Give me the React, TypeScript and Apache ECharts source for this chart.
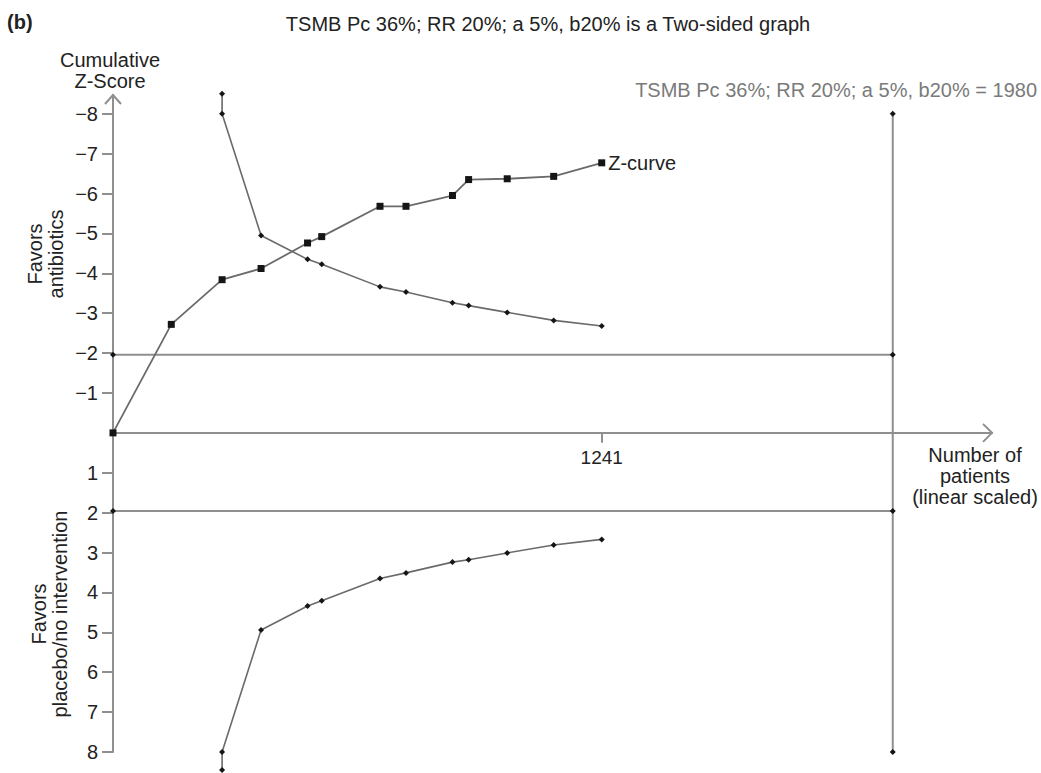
import React, { useEffect, useRef } from 'react';
import * as echarts from 'echarts';

// Cumulative Z-curve (number of patients, cumulative Z-score)
const zPatients = [0, 148, 277, 376, 494, 530, 678, 744, 862, 903, 1001, 1119, 1241];
const zScores = [0, -2.72, -3.84, -4.12, -4.76, -4.92, -5.68, -5.68, -5.95, -6.35, -6.37, -6.43, -6.77];

// Trial sequential monitoring boundaries
const boundaryPatients = [277, 277, 376, 494, 530, 678, 744, 862, 903, 1001, 1119, 1241];
const upperBoundary = [-8.5, -8, -4.95, -4.35, -4.23, -3.66, -3.53, -3.26, -3.19, -3.02, -2.82, -2.68];
const lowerBoundary = [8.45, 8, 4.94, 4.34, 4.21, 3.65, 3.51, 3.24, 3.18, 3.01, 2.81, 2.67];

// Conventional boundaries and required information size
const zCritical = [-1.96, 1.96];
const requiredSize = 1980;
const requiredSizeSpan = [-8, 8];

// Axis ticks
const yTickValues = [-8, -7, -6, -5, -4, -3, -2, -1, 1, 2, 3, 4, 5, 6, 7, 8];
const xTickValues = [1241];
const yAxisTop = -8.47;
const yAxisBottom = 8;
const xAxisEnd = 2232;

export default function App() {
  const ref = useRef<HTMLDivElement>(null);

  useEffect(() => {
    const chart = echarts.init(ref.current!, null, { renderer: 'svg' });
    const font = '"Liberation Sans", Arial, Helvetica, sans-serif';
    const axisGray = '#8f8f8f';
    const curveGray = '#6a6a6a';
    const markBlack = '#151515';
    const textColor = '#222';

    const refLine = (data: number[][]) => ({
      type: 'line',
      data,
      clip: false,
      symbol: 'diamond',
      symbolSize: 6,
      itemStyle: { color: markBlack },
      lineStyle: { color: axisGray, width: 2 },
      silent: true,
      z: 2,
    });

    const zData: any[] = zPatients.map((x, i) => [x, zScores[i]]);
    const last = zData.length - 1;
    zData[last] = {
      value: zData[last],
      label: {
        show: true,
        position: 'right',
        distance: 3,
        formatter: 'Z-curve',
        fontFamily: font,
        fontSize: 20,
        color: textColor,
      },
    };

    chart.setOption({
      animation: false,
      backgroundColor: '#fff',
      grid: {
        left: 113,
        right: 49,
        top: 95,
        bottom: 21,
        containLabel: false,
        outerBoundsMode: 'none',
      },
      xAxis: {
        type: 'value',
        min: 0,
        max: xAxisEnd,
        axisLine: { show: true, onZero: true, lineStyle: { color: axisGray, width: 2 } },
        axisTick: { show: true, customValues: xTickValues, length: 10, lineStyle: { color: axisGray, width: 2 } },
        axisLabel: { show: false },
        splitLine: { show: false },
      },
      yAxis: {
        type: 'value',
        inverse: true,
        min: yAxisTop,
        max: yAxisBottom,
        axisLine: { show: true, onZero: false, lineStyle: { color: axisGray, width: 2 } },
        axisTick: { show: true, customValues: yTickValues, length: 11, lineStyle: { color: axisGray, width: 2 } },
        axisLabel: {
          show: true,
          customValues: yTickValues,
          margin: 15,
          fontFamily: font,
          fontSize: 20,
          color: textColor,
          formatter: (v: number) => String(v).replace('-', '\u2212'),
        },
        splitLine: { show: false },
      },
      series: [
        refLine([[0, zCritical[0]], [requiredSize, zCritical[0]]]),
        refLine([[0, zCritical[1]], [requiredSize, zCritical[1]]]),
        refLine([[requiredSize, requiredSizeSpan[0]], [requiredSize, requiredSizeSpan[1]]]),
        {
          type: 'line',
          data: boundaryPatients.map((x, i) => [x, upperBoundary[i]]),
          clip: false,
          symbol: 'diamond',
          symbolSize: 6,
          itemStyle: { color: markBlack },
          lineStyle: { color: curveGray, width: 1.6 },
          z: 3,
        },
        {
          type: 'line',
          data: boundaryPatients.map((x, i) => [x, lowerBoundary[i]]),
          clip: false,
          symbol: 'diamond',
          symbolSize: 6,
          itemStyle: { color: markBlack },
          lineStyle: { color: curveGray, width: 1.6 },
          z: 3,
        },
        {
          type: 'line',
          data: zData,
          clip: false,
          symbol: 'rect',
          symbolSize: 7,
          itemStyle: { color: markBlack },
          lineStyle: { color: curveGray, width: 1.8 },
          z: 4,
        },
      ],
    });

    const yTip = chart.convertToPixel({ gridIndex: 0 }, [0, yAxisTop]) as number[];
    const xTip = chart.convertToPixel({ gridIndex: 0 }, [xAxisEnd, 0]) as number[];
    const arrowStyle = { stroke: axisGray, lineWidth: 2, fill: 'none' };
    const txt = (x: number, y: number, text: string, extra: any = {}) => ({
      type: 'text',
      x,
      y,
      style: {
        text,
        fontFamily: font,
        fontSize: 20,
        fill: textColor,
        align: 'center',
        verticalAlign: 'middle',
        lineHeight: 21,
        ...(extra.style || {}),
      },
      ...(extra.props || {}),
    });
    const xLabels = xTickValues.map((v) => {
      const p = chart.convertToPixel({ gridIndex: 0 }, [v, 0]) as number[];
      return txt(p[0], p[1] + 25, String(v), { style: { fontSize: 19 } });
    });

    chart.setOption({
      graphic: [
        {
          type: 'polyline',
          shape: { points: [[yTip[0] - 8, yTip[1] + 9], [yTip[0], yTip[1]], [yTip[0] + 8, yTip[1] + 9]] },
          style: arrowStyle,
        },
        {
          type: 'polyline',
          shape: { points: [[xTip[0] - 9, xTip[1] - 9], [xTip[0], xTip[1]], [xTip[0] - 9, xTip[1] + 9]] },
          style: arrowStyle,
        },
        ...xLabels,
        txt(7, 22, '(b)', { style: { align: 'left', fontWeight: 'bold' } }),
        txt(548, 24, 'TSMB Pc 36%; RR 20%; a 5%, b20% is a Two-sided graph'),
        txt(1037, 90, 'TSMB Pc 36%; RR 20%; a 5%, b20% = 1980', { style: { align: 'right', fill: '#7a7a7a' } }),
        txt(110, 70, 'Cumulative\nZ-Score'),
        txt(975, 476, 'Number of\npatients\n(linear scaled)'),
        txt(45, 254, 'Favors\nantibiotics', { props: { rotation: Math.PI / 2 } }),
        txt(49, 614, 'Favors\nplacebo/no intervention', { props: { rotation: Math.PI / 2 } }),
      ],
    });

    return () => chart.dispose();
  }, []);

  return (
    <div
      ref={ref}
      style={{ position: 'absolute', left: 0, top: 0, width: 1041, height: 773 }}
    />
  );
}
